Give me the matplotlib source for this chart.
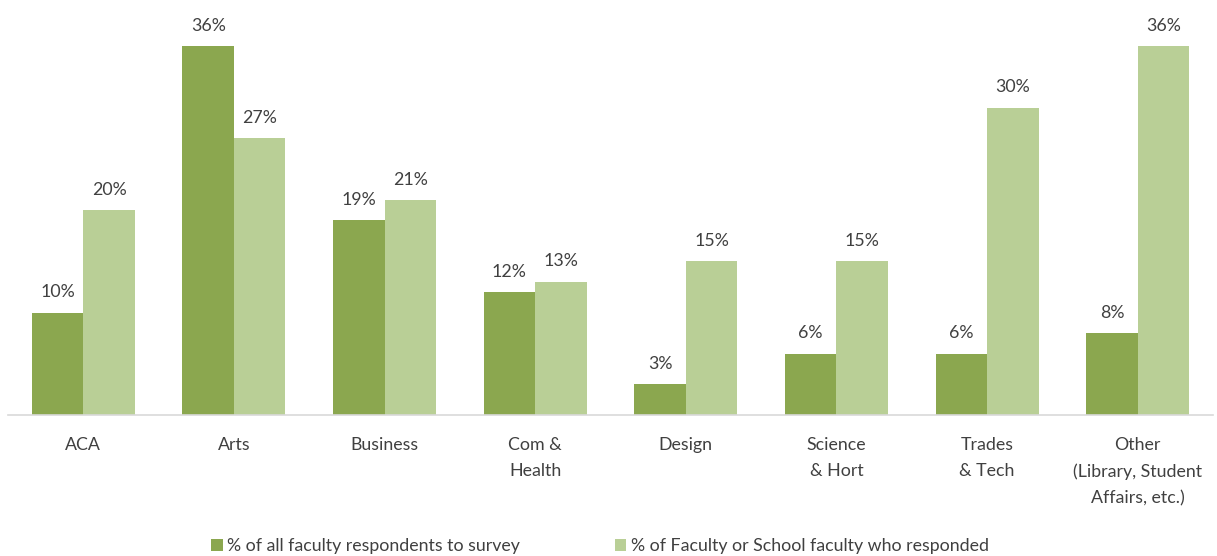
import matplotlib
matplotlib.use("Agg")
import matplotlib.pyplot as plt
import numpy as np

categories = ["ACA", "Arts", "Business", "Com &\nHealth", "Design",
              "Science\n& Hort", "Trades\n& Tech", "Other\n(Library, Student\nAffairs, etc.)"]
all_respondents = [10, 36, 19, 12, 3, 6, 6, 8]
faculty_responded = [20, 27, 21, 13, 15, 15, 30, 36]
series_names = ["% of all faculty respondents to survey",
                "% of Faculty or School faculty who responded"]

dark_green = "#8BA74F"
light_green = "#B9CF96"
text_color = "#404040"

plt.rcParams["font.family"] = ["Lato", "DejaVu Sans"]

fig = plt.figure(figsize=(12.17, 5.56), dpi=100)
ax = fig.add_axes([8 / 1217, 1 - 415 / 556, 1205 / 1217, 415 / 556])

x = np.arange(len(categories))
w = 0.342
b1 = ax.bar(x - w / 2, all_respondents, width=w, color=dark_green, label=series_names[0])
b2 = ax.bar(x + w / 2, faculty_responded, width=w, color=light_green, label=series_names[1])

for bars, vals in ((b1, all_respondents), (b2, faculty_responded)):
    for rect, v in zip(bars, vals):
        ax.text(rect.get_x() + rect.get_width() / 2, v + 1.2, f"{v}%",
                ha="center", va="bottom", fontsize=12.8, color=text_color)

ax.set_xlim(-0.5, len(categories) - 0.5)
ax.set_ylim(0, 40.5)
ax.set_xticks(x)
ax.set_xticklabels(categories, fontsize=12.8, color=text_color, linespacing=1.77)
ax.tick_params(axis="x", length=0, pad=16)
ax.set_yticks([])
for side in ("top", "left", "right"):
    ax.spines[side].set_visible(False)
ax.spines["bottom"].set_color("#D9D9D9")
ax.spines["bottom"].set_linewidth(1.2)

fig.legend(loc="lower center", bbox_to_anchor=(0.493, -0.026), ncol=2, frameon=False,
           fontsize=12.8, handlelength=0.65, handleheight=0.65, handletextpad=0.25,
           columnspacing=5.3, labelcolor=text_color)

fig.savefig("out.png", dpi=100)
